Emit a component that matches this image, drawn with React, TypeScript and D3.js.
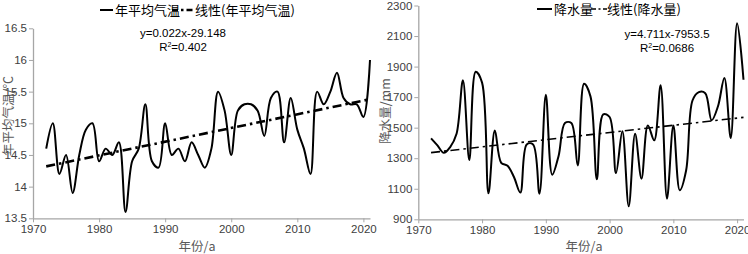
import React, { useEffect, useRef } from "react";
import * as d3 from "d3";

const years = d3.range(1972, 2022);
const tempValues = [
  14.6, 15.0, 14.2, 14.5, 13.9, 14.5, 14.9, 15.0, 14.4, 14.6,
  14.5, 14.7, 13.6, 14.4, 14.6, 15.3, 14.4, 14.3, 15.0, 14.5,
  14.6, 14.4, 14.7, 14.5, 14.3, 14.6, 15.5, 15.2, 14.5, 15.2,
  15.3, 15.3, 15.2, 14.8, 15.4, 15.5, 14.7, 15.4, 14.9, 14.6,
  14.2, 15.5, 15.3, 15.5, 15.8, 15.4, 15.3, 15.3, 15.1, 16.0,
];
const precipValues = [
  1430, 1384, 1335, 1373, 1460, 1810, 1288, 1866, 1795, 1070,
  1482, 1270, 1250, 1177, 1075, 1390, 1390, 1068, 1715, 1192,
  1315, 1530, 1530, 1253, 1787, 1705, 1162, 1587, 1570, 1203,
  1476, 985, 1460, 1166, 1515, 1417, 1777, 1035, 1515, 1090,
  1220, 1678, 1733, 1726, 1548, 1640, 1825, 1432, 2184, 1814,
];
const tempTrend = [14.32, 15.38];
const precipTrend = [1336.6, 1567.5];
const xTicks = [1970, 1980, 1990, 2000, 2010, 2020];
const tempTicks = [13.5, 14, 14.5, 15, 15.5, 16, 16.5];
const precipTicks = [900, 1100, 1300, 1500, 1700, 1900, 2100, 2300];

const W = 748;
const H = 254;
const FONT = "'Liberation Sans', Arial, sans-serif";
const CJK = "'Noto Sans CJK SC', sans-serif";
const AXIS_COLOR = "#a6a6a6";
const TEXT_COLOR = "#404040";
const DASH = "9,4,2.5,4";

interface PanelProps {
  values: number[];
  trend: number[];
  yTicks: number[];
  yDomain: [number, number];
  xRange: [number, number];
  yRange: [number, number];
  trendWidth: number;
  yFormat: (v: number) => string;
}

function Panel(p: PanelProps) {
  const xAxisRef = useRef<SVGGElement>(null);
  const yAxisRef = useRef<SVGGElement>(null);
  const x = d3.scaleLinear().domain([1970, 2021]).range(p.xRange);
  const y = d3.scaleLinear().domain(p.yDomain).range(p.yRange);

  useEffect(() => {
    const xa = d3.axisBottom(x).tickValues(xTicks).tickSize(4).tickSizeOuter(0).tickFormat(d3.format("d") as any).tickPadding(3);
    const ya = d3.axisLeft(y).tickValues(p.yTicks).tickSize(4).tickSizeOuter(0).tickFormat((d: any) => p.yFormat(d)).tickPadding(2);
    const gx = d3.select(xAxisRef.current!).call(xa as any);
    const gy = d3.select(yAxisRef.current!).call(ya as any);
    [gx, gy].forEach((g) => {
      g.select(".domain").attr("stroke", AXIS_COLOR).attr("stroke-width", 1.3);
      g.selectAll(".tick line").attr("stroke", AXIS_COLOR).attr("stroke-width", 1);
      g.selectAll(".tick text").attr("fill", TEXT_COLOR).attr("font-size", 11.5).attr("font-family", FONT);
    });
  });

  const pts: [number, number][] = p.values.map((v, i) => [years[i], v]);
  const line = d3
    .line<[number, number]>()
    .x((d) => x(d[0]))
    .y((d) => y(d[1]))
    .curve(d3.curveCatmullRom.alpha(0.5));
  const trendPts: [number, number][] = [
    [years[0], p.trend[0]],
    [years[years.length - 1], p.trend[1]],
  ];
  const tline = d3.line<[number, number]>().x((d) => x(d[0])).y((d) => y(d[1]));

  return (
    <g>
      <g ref={xAxisRef} transform={`translate(0,${p.yRange[0]})`} />
      <g ref={yAxisRef} transform={`translate(${p.xRange[0]},0)`} />
      <path d={line(pts) || ""} fill="none" stroke="#000" strokeWidth={2} />
      <path d={tline(trendPts) || ""} fill="none" stroke="#000" strokeWidth={p.trendWidth} strokeDasharray={DASH} />
    </g>
  );
}

export default function App() {
  return (
    <svg width={W} height={H} style={{ position: "absolute", left: 0, top: 0, background: "#fff" }}>
      <rect width={W} height={H} fill="#fff" />
      {/* Left panel */}
      <Panel
        values={tempValues}
        trend={tempTrend}
        yTicks={tempTicks}
        yDomain={[13.5, 16.5]}
        xRange={[33, 370]}
        yRange={[218.3, 28.3]}
        trendWidth={2.6}
        yFormat={(v) => String(v)}
      />
      <g>
        <line x1={100} x2={113} y1={10} y2={10} stroke="#000" strokeWidth={2} />
        <text x={115} y={14.5} fontFamily={CJK} fontSize={13} fill="#000">年平均气温</text>
        <line x1={172} x2={195} y1={10} y2={10} stroke="#000" strokeWidth={2.6} strokeDasharray="6,3,2.5,3" />
        <text x={195} y={14.5} fontFamily={CJK} fontSize={13} fill="#000">线性(年平均气温)</text>
      </g>
      <text x={183} y={37} textAnchor="middle" fontFamily={FONT} fontSize={11.5} fill="#000">y=0.022x-29.148</text>
      <text x={183} y={51} textAnchor="middle" fontFamily={FONT} fontSize={11.5} fill="#000">
        R<tspan fontSize={7} dy={-4}>2</tspan><tspan dy={4}>=0.402</tspan>
      </text>
      <text transform="translate(13,116) rotate(-90)" textAnchor="middle" fontFamily={CJK} fontSize={12.5} fill="#595959">年平均气温/℃</text>
      <text x={197} y={251} textAnchor="middle" fontFamily={CJK} fontSize={12.5} fill="#595959">年份/a</text>

      {/* Right panel */}
      <Panel
        values={precipValues}
        trend={precipTrend}
        yTicks={precipTicks}
        yDomain={[900, 2300]}
        xRange={[418.3, 743.5]}
        yRange={[219.3, 5.5]}
        trendWidth={1.6}
        yFormat={(v) => String(v)}
      />
      <g>
        <line x1={537} x2={552} y1={9} y2={9} stroke="#000" strokeWidth={2} />
        <text x={554} y={13.5} fontFamily={CJK} fontSize={13} fill="#000">降水量</text>
        <line x1={591} x2={607} y1={9} y2={9} stroke="#000" strokeWidth={1.6} strokeDasharray="5,2.5,2,2.5" />
        <text x={607} y={13.5} fontFamily={CJK} fontSize={13} fill="#000">线性(降水量)</text>
      </g>
      <text x={667} y={38} textAnchor="middle" fontFamily={FONT} fontSize={11.5} fill="#000">y=4.711x-7953.5</text>
      <text x={667} y={52} textAnchor="middle" fontFamily={FONT} fontSize={11.5} fill="#000">
        R<tspan fontSize={7} dy={-4}>2</tspan><tspan dy={4}>=0.0686</tspan>
      </text>
      <text transform="translate(390,111) rotate(-90)" textAnchor="middle" fontFamily={CJK} fontSize={12.5} fill="#595959">降水量/mm</text>
      <text x={584} y={251} textAnchor="middle" fontFamily={CJK} fontSize={12.5} fill="#595959">年份/a</text>
    </svg>
  );
}
